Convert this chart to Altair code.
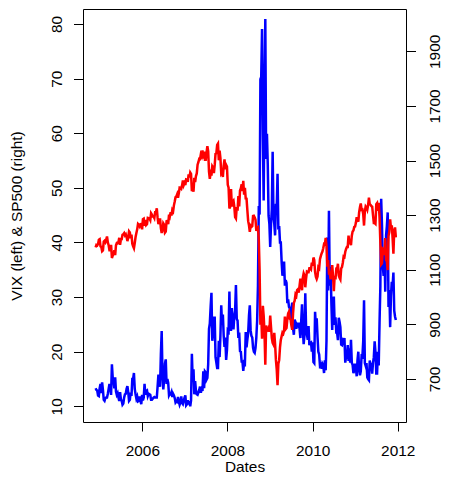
import altair as alt
import pandas as pd

FONT = "Liberation Sans"
FS = 15.4

# Weekly (Friday) readings, one list per calendar year
year_starts = ["2004-11-26", "2005-01-07", "2006-01-06", "2007-01-05",
               "2008-01-04", "2009-01-02", "2010-01-01", "2011-01-07"]

sp_2004 = [1182, 1191, 1189, 1194, 1210, 1212]
vix_2004 = [13.3, 13.0, 12.9, 12.0, 11.9, 13.3]

sp_2005 = [1186, 1184, 1168, 1171, 1203, 1206, 1201, 1211, 1222, 1200, 1190, 1172,
           1172, 1191, 1143, 1152, 1157, 1172, 1154, 1190, 1198, 1197, 1201, 1217, 1191,
           1211, 1212, 1228, 1230, 1234, 1226, 1230, 1220, 1205, 1218, 1241, 1237, 1215, 1229,
           1195, 1186, 1179, 1198, 1220, 1235, 1248, 1268, 1265, 1259, 1267, 1268, 1248]
vix_2005 = [14.1, 12.4, 14.4, 13.0, 11.2, 11.0, 11.5, 11.6, 11.6, 12.3, 13.2, 14.1,
            13.6, 12.1, 17.7, 15.2, 14.6, 13.3, 15.3, 12.7, 12.1, 12.4, 11.6, 11.0, 12.6,
            11.3, 11.0, 10.3, 10.5, 11.6, 12.2, 12.3, 13.2, 13.7, 12.6, 11.0, 11.2, 12.5, 11.9,
            15.0, 15.0, 16.1, 13.2, 12.2, 11.4, 11.8, 10.9, 11.0, 11.8, 11.0, 10.4, 12.1]

sp_2006 = [1285, 1287, 1261, 1283, 1264, 1267, 1290, 1289, 1288, 1282, 1307, 1302, 1295,
           1295, 1289, 1311, 1311, 1325, 1291, 1267, 1280, 1288, 1253, 1235, 1245, 1270,
           1265, 1236, 1240, 1278, 1279, 1267, 1302, 1295, 1311, 1299, 1319, 1314, 1336,
           1350, 1366, 1369, 1377, 1364, 1380, 1401, 1400, 1397, 1409, 1427, 1410, 1418]
vix_2006 = [11.1, 11.6, 14.1, 12.1, 12.8, 12.9, 11.9, 12.3, 12.2, 12.1, 11.2, 11.2, 11.4,
            11.6, 11.7, 11.6, 11.6, 11.6, 13.6, 15.8, 14.0, 13.6, 19.5, 23.8, 15.7, 13.1,
            14.9, 17.8, 18.6, 14.1, 15.0, 14.3, 12.0, 12.3, 12.2, 12.6, 11.7, 12.3, 12.0,
            11.5, 10.7, 10.9, 10.8, 11.7, 10.9, 10.3, 10.7, 11.8, 10.6, 10.4, 11.0, 11.6]

sp_2007 = [1410, 1431, 1430, 1422, 1449, 1438, 1456, 1451, 1388, 1402, 1386, 1437, 1421,
           1443, 1453, 1485, 1494, 1506, 1505, 1523, 1516, 1537, 1507, 1533, 1503, 1503,
           1530, 1553, 1534, 1459, 1433, 1453, 1445, 1479, 1474, 1454, 1484, 1525, 1527,
           1557, 1562, 1501, 1536, 1509, 1453, 1458, 1440, 1481, 1504, 1468, 1484, 1478]
vix_2007 = [12.0, 10.2, 10.4, 11.1, 10.6, 10.7, 10.0, 11.1, 19.6, 14.9, 16.8, 12.2, 14.6,
            12.9, 12.2, 12.1, 12.5, 13.0, 13.6, 12.5, 13.1, 12.8, 16.4, 13.3, 16.4, 16.2,
            14.9, 15.2, 17.7, 24.2, 25.2, 28.2, 30.8, 22.0, 23.4, 26.2, 26.2, 19.0, 18.0,
            17.0, 17.0, 22.0, 19.0, 23.0, 28.5, 24.9, 26.8, 22.9, 20.9, 22.6, 18.5, 20.3]

sp_2008 = [1411, 1401, 1325, 1331, 1396, 1332, 1349, 1353, 1331, 1293, 1288, 1330, 1316,
           1370, 1332, 1390, 1398, 1413, 1388, 1426, 1375, 1400, 1361, 1360, 1318, 1278,
           1263, 1239, 1261, 1257, 1260, 1297, 1298, 1292, 1283, 1242, 1252, 1255, 1213,
           1099, 899, 941, 848, 968, 931, 873, 752, 896, 876, 879, 887, 873]
vix_2008 = [23.9, 23.7, 31.0, 24.0, 24.0, 28.0, 25.0, 24.1, 26.5, 27.5, 32.2, 26.0, 25.7,
            22.5, 23.5, 20.1, 20.0, 18.2, 18.2, 16.5, 18.0, 17.8, 23.6, 20.8, 22.2, 23.4,
            26.6, 28.5, 23.9, 22.9, 22.6, 20.7, 20.0, 19.8, 20.7, 22.6, 25.7, 32.1, 46.7,
            45.1, 69.9, 70.3, 79.1, 59.9, 47.7, 66.3, 80.9, 55.3, 59.9, 54.3, 44.9, 43.4]

sp_2009 = [932, 890, 850, 832, 826, 869, 827, 770, 735, 677, 756, 769, 816,
           843, 857, 870, 866, 877, 929, 883, 887, 919, 940, 946, 921, 918,
           896, 880, 940, 979, 987, 1010, 1005, 1026, 1029, 1016, 1042, 1068, 1044,
           1025, 1071, 1087, 1079, 1036, 1069, 1093, 1091, 1091, 1106, 1106, 1102, 1126]
vix_2009 = [39.2, 43.3, 46.1, 56.6, 44.8, 43.4, 41.3, 47.1, 46.4, 52.6, 42.4, 43.0, 40.0,
            40.0, 36.5, 33.9, 35.2, 36.5, 32.1, 33.1, 32.6, 28.9, 29.6, 28.2, 27.9, 25.9,
            27.9, 29.0, 24.3, 23.1, 25.9, 25.4, 24.2, 25.0, 24.8, 25.3, 24.2, 22.5, 25.6,
            28.7, 24.0, 21.4, 23.0, 30.7, 24.2, 23.2, 22.2, 24.7, 21.2, 21.6, 21.7, 20.0]

sp_2010 = [1115, 1145, 1136, 1092, 1074, 1066, 1075, 1109, 1105, 1139, 1150, 1160, 1167,
           1179, 1194, 1192, 1217, 1187, 1111, 1136, 1088, 1089, 1065, 1092, 1117, 1076,
           1022, 1078, 1065, 1103, 1102, 1122, 1079, 1071, 1065, 1105, 1110, 1126, 1149,
           1147, 1166, 1176, 1183, 1183, 1225, 1200, 1199, 1190, 1225, 1240, 1244, 1257, 1258]
vix_2010 = [21.7, 18.1, 17.9, 27.3, 24.6, 26.1, 22.7, 20.0, 19.5, 17.4, 17.6, 16.9, 17.8,
            17.5, 16.1, 18.4, 16.6, 22.1, 40.9, 31.2, 45.8, 32.1, 35.5, 28.8, 24.0, 28.5,
            30.1, 24.9, 26.3, 23.5, 23.5, 22.1, 26.2, 25.5, 24.5, 21.3, 21.2, 22.0, 21.7,
            22.5, 18.0, 19.1, 19.1, 21.2, 18.3, 20.6, 18.0, 22.2, 18.0, 17.6, 16.1, 16.5, 17.8]

sp_2011 = [1272, 1293, 1283, 1276, 1311, 1329, 1343, 1320, 1321, 1304, 1262, 1314,
           1332, 1328, 1320, 1337, 1364, 1340, 1338, 1333, 1331, 1300, 1271, 1271, 1268,
           1340, 1344, 1316, 1345, 1292, 1199, 1120, 1124, 1177, 1174, 1154, 1216, 1136, 1131,
           1099, 1224, 1238, 1285, 1253, 1263, 1216, 1159, 1244, 1255, 1219]
vix_2011 = [17.1, 15.5, 18.5, 20.0, 16.7, 15.7, 16.4, 19.2, 19.1, 21.9, 29.4, 17.9,
            17.4, 17.9, 15.3, 15.0, 14.8, 18.4, 17.1, 17.4, 16.0, 18.0, 19.0, 21.9, 20.0,
            16.0, 16.0, 20.0, 17.5, 25.3, 32.0, 48.0, 43.1, 35.6, 33.9, 38.5, 31.0, 41.3, 43.0,
            45.5, 28.2, 31.3, 24.5, 30.2, 32.8, 32.0, 34.5, 27.5, 26.4, 25.8]

sp_years = [sp_2004, sp_2005, sp_2006, sp_2007, sp_2008, sp_2009, sp_2010, sp_2011]
vix_years = [vix_2004, vix_2005, vix_2006, vix_2007, vix_2008, vix_2009, vix_2010, vix_2011]

frames = []
for start, sp, vix in zip(year_starts, sp_years, vix_years):
    n = min(len(sp), len(vix))
    d = pd.date_range(start, periods=n, freq="W-FRI")
    frames.append(pd.DataFrame({"date": d.strftime("%Y-%m-%d"), "sp": sp[:n], "vix": vix[:n]}))
df = pd.concat(frames, ignore_index=True)

x_ticks = [2006, 2008, 2010, 2012]
vix_ticks = [10, 20, 30, 40, 50, 60, 70, 80]
sp_ticks = [700, 900, 1100, 1300, 1500, 1700, 1900]

W, H = 323, 413

x_enc = alt.X(
    "date:T",
    scale=alt.Scale(domain=[alt.DateTime(year=2004, month=8, date=10),
                            alt.DateTime(year=2012, month=3, date=12)]),
    axis=alt.Axis(
        title="Dates", values=[alt.DateTime(year=y, month=1, date=1) for y in x_ticks],
        format="%Y", grid=False, domain=False, tickColor="black", tickSize=9,
        labelFont=FONT, labelFontSize=FS, labelColor="black", labelPadding=12,
        labelFlush=False, labelOverlap=False,
        titleFont=FONT, titleFontSize=FS, titleFontWeight="normal", titleColor="black",
        titleX=W / 2, titleY=49, titleAlign="center", titleBaseline="alphabetic",
    ),
)

vix_line = alt.Chart(df).mark_line(color="#0000FF", strokeWidth=2.5).encode(
    x=x_enc,
    y=alt.Y(
        "vix:Q",
        scale=alt.Scale(domain=[7.13, 82.75], nice=False, zero=False),
        axis=alt.Axis(
            title="VIX (left) & SP500 (right)", values=vix_ticks, grid=False, domain=False,
            tickColor="black", tickSize=9.5, labelAngle=270, labelAlign="center",
            labelBaseline="bottom", labelPadding=9, labelFont=FONT, labelFontSize=FS,
            labelColor="black", labelFlush=False, labelOverlap=False,
            titleFont=FONT, titleFontSize=FS, titleFontWeight="normal", titleColor="black",
            titleAngle=270, titleX=-67, titleY=H / 2, titleAlign="center",
            titleBaseline="middle",
        ),
    ),
)

sp_line = alt.Chart(df).mark_line(color="#FF0000", strokeWidth=2.5).encode(
    x=x_enc,
    y=alt.Y(
        "sp:Q",
        scale=alt.Scale(domain=[542.6, 2055.0], nice=False, zero=False),
        axis=alt.Axis(
            title=None, orient="right", values=sp_ticks, format="d", grid=False, domain=False,
            tickColor="black", tickSize=9.5, labelAngle=270, labelAlign="center",
            labelBaseline="top", labelPadding=11.5, labelFont=FONT, labelFontSize=FS,
            labelColor="black", labelFlush=False, labelOverlap=False,
        ),
    ),
)

chart = (
    alt.layer(vix_line, sp_line)
    .resolve_scale(y="independent")
    .properties(
        width=W, height=H,
        autosize=alt.AutoSizeParams(type="none"),
        padding={"left": 75, "top": 1, "right": 35, "bottom": 53},
        background="white",
    )
    .configure_view(stroke="black", strokeWidth=1)
)

chart.save("out.html", embed_options={"renderer": "svg", "actions": False})
